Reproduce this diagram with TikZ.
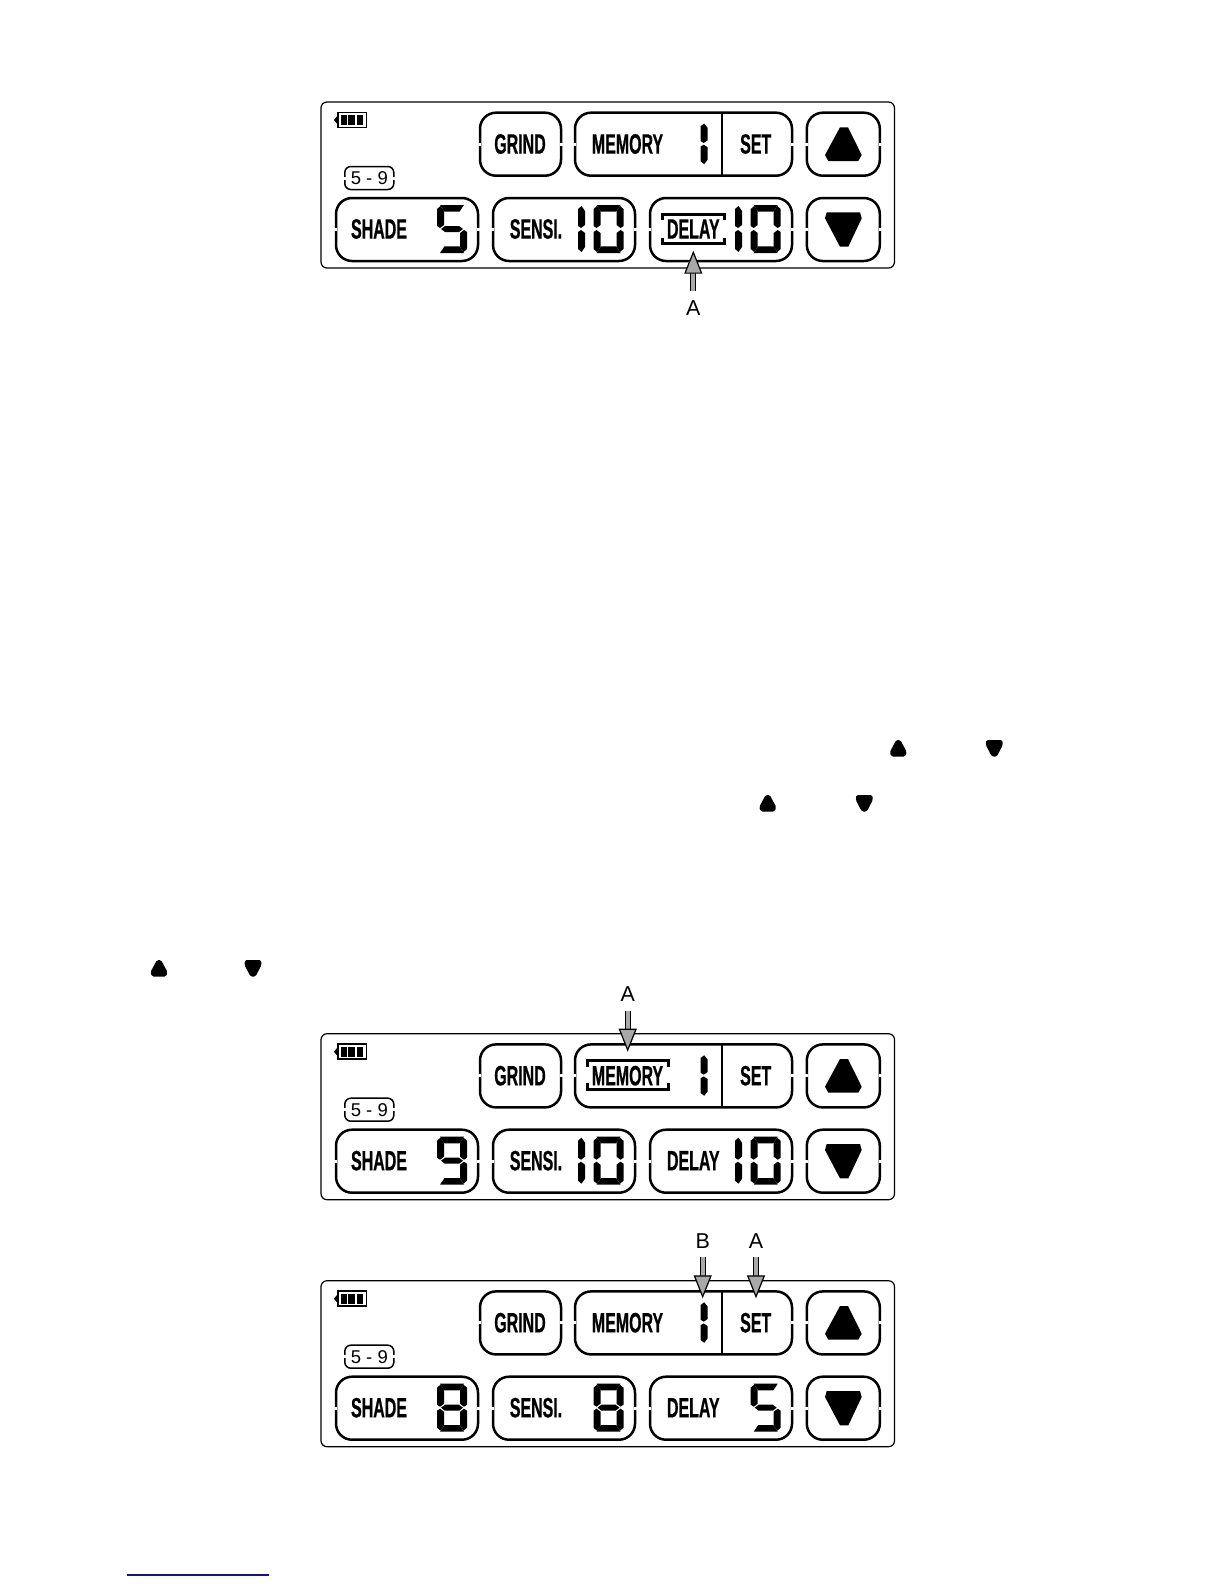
\documentclass[tikz,border=0pt]{standalone}
\usepackage{fontspec}
\usepackage{xcolor}
\usepackage{tikz}
\usetikzlibrary{arrows.meta}
\setmainfont{Liberation Sans}
\newfontfamily\lcdfont[FakeStretch=0.57,FakeBold=0.6]{Liberation Sans}
\definecolor{Arrow Gray}{HTML}{A8A8A8}
\definecolor{Rule Blue}{HTML}{14148C}
\tikzset{
    lcdbtn/.style={draw, line width=2.5, rounded corners=16, inner sep=0, minimum height=63},
    lcdtext/.style={inner sep=0, font=\lcdfont\bfseries\fontsize{28}{30}\selectfont},
    rangetext/.style={inner sep=0, font=\fontsize{18.5}{20}\selectfont},
    arrowlabel/.style={inner sep=9, text height=15, text depth=0, font=\fontsize{21.5}{24}\selectfont},
    blockarrow/.style={draw=black, line width=1.2, double=Arrow Gray, double distance=3.8,
        -{Triangle[length=23, width=18, fill=Arrow Gray, line width=1.2]}},
    lcdbar/.style={line width=3.4}
}
% Segments of one digit, 30 wide and 48 high
\newcommand{\sega}{\fill (3,0) -- (27,0) -- (22.5,6.7) -- (7.5,6.7) -- cycle;}
\newcommand{\segb}{\fill (30,4) -- (26.5,1) -- (23,6) -- (23,20) -- (27,23) -- (30,21) -- cycle;}
\newcommand{\segc}{\fill (30,27) -- (27,25) -- (23,28) -- (23,42) -- (26.5,47) -- (30,44) -- cycle;}
\newcommand{\segd}{\fill (3,48) -- (27,48) -- (22.5,41.3) -- (7.5,41.3) -- cycle;}
\newcommand{\sege}{\fill (0,27) -- (3,25) -- (7,28) -- (7,42) -- (3.5,47) -- (0,44) -- cycle;}
\newcommand{\segf}{\fill (0,4) -- (3.5,1) -- (7,6) -- (7,20) -- (3,23) -- (0,21) -- cycle;}
\newcommand{\segg}{\fill (4,24) -- (8,21) -- (22,21) -- (26,24) -- (22,27) -- (8,27) -- cycle;}
\newcommand{\lcddigit}[4][]{%
    \begin{scope}[shift={(#2,#3)},#1]
        \foreach \s in {#4} {\csname seg\s\endcsname}
    \end{scope}}
% Bracket bars round a selected label
\newcommand{\lcdbracket}[4]{%
    \draw[lcdbar] (#1,#2+6) -- (#1,#2) -- (#3,#2) -- (#3,#2+6);
    \draw[lcdbar] (#1,#4-6) -- (#1,#4) -- (#3,#4) -- (#3,#4-6);}
% Small marks in the running text
\newcommand{\upmark}[2]{\fill[rounded corners=1.5] (#1-2,#2) -- (#1+2,#2) -- (#1+8.5,#2+12) -- (#1+7,#2+16.5) -- (#1-7,#2+16.5) -- (#1-8.5,#2+12) -- cycle;}
\newcommand{\downmark}[2]{\fill[rounded corners=1.5] (#1-8,#2) -- (#1+8,#2) -- (#1+8.5,#2+5) -- (#1+2.5,#2+16.5) -- (#1-2.5,#2+16.5) -- (#1-8.5,#2+5) -- cycle;}
% One display panel: name, vertical offset, segments of the three right digits
\newcommand{\lcdpanel}[5]{%
    \begin{scope}[shift={(0,#2)}]
        \draw[line width=1.2, rounded corners=6] (321,102) rectangle (894.5,268);
        % Buttons
        \node[lcdbtn, minimum width=81] (#1grind) at (520.5,144.2) {};
        \node[lcdbtn, minimum width=217] (#1memory) at (683.5,144.2) {};
        \node[lcdbtn, minimum width=73] (#1up) at (843.3,144.2) {};
        \node[lcdbtn, minimum width=142] (#1shade) at (407,229.5) {};
        \node[lcdbtn, minimum width=142] (#1sensi) at (564,229.5) {};
        \node[lcdbtn, minimum width=142] (#1delay) at (721,229.5) {};
        \node[lcdbtn, minimum width=73] (#1down) at (843.3,229.5) {};
        \node[draw, line width=1.5, rounded corners=6, inner sep=0, minimum width=49, minimum height=23] (#1range) at (369.3,178) {};
        % Breaks in the sides of the buttons
        \foreach \b in {grind,memory,up,shade,sensi,delay,down,range} {
            \fill[white] ([shift={(-2,-1.5)}]#1\b.west) rectangle ([shift={(2,1.5)}]#1\b.west);
            \fill[white] ([shift={(-2,-1.5)}]#1\b.east) rectangle ([shift={(2,1.5)}]#1\b.east);
        }
        \draw[line width=2.2] (721.7,111.7) -- (721.7,176.7);
        % Labels
        \node[lcdtext] (#1grindtext) at (520,144) {GRIND};
        \node[lcdtext] (#1memorytext) at (627.5,144) {MEMORY};
        \node[lcdtext] (#1settext) at (755.7,144) {SET};
        \node[lcdtext] (#1shadetext) at (379,229) {SHADE};
        \node[lcdtext] (#1sensitext) at (536,229) {SENSI.};
        \node[lcdtext] (#1delaytext) at (693.3,229) {DELAY};
        \node[rangetext] (#1rangetext) at (369.3,178) {5 - 9};
        % Battery
        \draw[line width=1.7] (338,112.5) -- (366.5,112.5) -- (366.5,127.5) -- (338,127.5) -- cycle;
        \fill (334,120) -- (338,115) -- (338,125) -- cycle;
        \foreach \x in {340.5,348,356.5} {\fill (\x,115) rectangle (\x+6.7,125);}
        % Triangles
        \fill (840,127.3) -- (848,127.3) -- (861.7,155) -- (858.3,161) -- (828.3,161) -- (825,155) -- cycle;
        \fill (826.7,212.3) -- (860,212.3) -- (861.7,218.3) -- (848.3,246.7) -- (840,246.7) -- (825,218.3) -- cycle;
        % Digits
        \lcddigit[yscale=0.88]{700.7}{122.7}{f,e}
        \lcddigit{437}{205}{#3}
        \lcddigit{593.5}{205}{#4}
        \lcddigit{750.7}{205}{#5}
    \end{scope}}

\begin{document}
\begin{tikzpicture}[x=1pt, y=-1pt]
    \useasboundingbox (0,0) rectangle (1224,1584);

    % First panel
    \lcdpanel{pa}{0}{a,f,g,c,d}{a,b,c,d,e,f}{a,b,c,d,e,f}
    \lcddigit{578}{205}{f,e}
    \lcddigit{735}{205}{f,e}
    \lcdbracket{662.5}{214.4}{724.5}{243.6}
    \node[arrowlabel] (paA) at (693.3,308) {A};
    \coordinate (paAtip) at (693.3,250.7);
    \draw[blockarrow] (paA) -- (paAtip);

    % Marks in the text
    \upmark{898.3}{740}
    \downmark{994.3}{740}
    \upmark{767.7}{795}
    \downmark{864.3}{795}
    \upmark{159}{960}
    \downmark{253}{960}

    % Second panel
    \lcdpanel{pb}{931.7}{a,b,f,g,c,d}{a,b,c,d,e,f}{a,b,c,d,e,f}
    \lcddigit{578}{205+931.7}{f,e}
    \lcddigit{735}{205+931.7}{f,e}
    \lcdbracket{587.5}{1060.7}{668.5}{1089.4}
    \node[arrowlabel] (pbA) at (627.7,994) {A};
    \coordinate (pbAtip) at (627.7,1051.7);
    \draw[blockarrow] (pbA) -- (pbAtip);

    % Third panel
    \lcdpanel{pc}{1178.7}{a,b,c,d,e,f,g}{a,b,c,d,e,f,g}{a,f,g,c,d}
    \node[arrowlabel] (pcB) at (702.7,1240.7) {B};
    \node[arrowlabel] (pcA) at (756,1240.7) {A};
    \coordinate (pcBtip) at (702.7,1298.3);
    \coordinate (pcAtip) at (756,1298.3);
    \draw[blockarrow] (pcB) -- (pcBtip);
    \draw[blockarrow] (pcA) -- (pcAtip);

    % Rule at the foot of the page
    \draw[Rule Blue, line width=1.3] (126.7,1575) -- (269,1575);
\end{tikzpicture}
\end{document}
